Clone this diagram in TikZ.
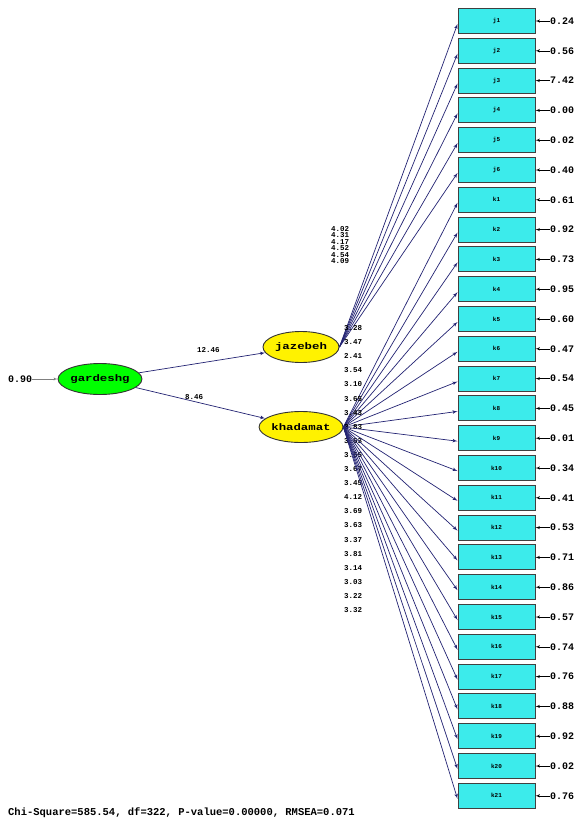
\documentclass[tikz,border=0pt]{standalone}
\usepackage{fontspec}
\setmonofont{Liberation Mono}
\newfontfamily\wide[FakeStretch=1.3]{Liberation Mono}
\usepackage{tikz}
\usetikzlibrary{arrows}
\usetikzlibrary{shapes.geometric}
\definecolor{lisblue}{RGB}{35,35,115}
\definecolor{boxcyan}{RGB}{60,235,235}
\tikzset{edge/.style = {->,> = latex', draw=lisblue, line width=0.7pt}}

\begin{document}
\begin{tikzpicture}[x=1pt, y=-1pt, font=\ttfamily\bfseries,
    obs node/.style={rectangle,draw=black!75,line width=1pt,fill=boxcyan,minimum width=77pt,minimum height=25pt,inner sep=0pt,font=\ttfamily\bfseries\fontsize{6}{6}\selectfont},
    lat node/.style={ellipse,draw=black!80,line width=0.9pt,minimum width=76pt,minimum height=31pt,inner sep=0pt,font=\wide\bfseries\fontsize{9.5}{10}\selectfont},
    load label/.style={font=\ttfamily\bfseries\fontsize{7.5}{7.5}\selectfont,inner sep=0pt},
    err label/.style={anchor=west,font=\ttfamily\bfseries\fontsize{10}{10}\selectfont,inner sep=0pt}]
  \clip (0,0) rectangle (579,827);
  \fill[white] (0,0) rectangle (579,827);
  % latent variables
  \node[lat node, fill=green] (gard) at (100,379) {gardeshg};
  \node[lat node, fill=yellow] (jaz) at (301,347) {jazebeh};
  \node[lat node, fill=yellow] (khad) at (301,427) {khadamat};
  \node[err label] (egard) at (8,379) {0.90};
  \draw[edge, line width=0.4pt, draw=black!50] (egard) -- (gard);
  \draw[edge] (gard) -- node[load label, above=9pt, pos=0.55] {12.46} (jaz);
  \draw[edge] (gard) -- node[load label, above=2pt, pos=0.45] {8.46} (khad);
  % observed variables
  \foreach \name/\err [count=\i from 0] in {j1/0.24,j2/0.56,j3/7.42,j4/0.00,j5/0.02,j6/0.40,
      k1/0.61,k2/0.92,k3/0.73,k4/0.95,k5/0.60,k6/0.47,k7/0.54,k8/0.45,k9/0.01,k10/0.34,
      k11/0.41,k12/0.53,k13/0.71,k14/0.86,k15/0.57,k16/0.74,k17/0.76,k18/0.88,k19/0.92,
      k20/0.02,k21/0.76} {
    \node[obs node] (\name) at (496.5,21+29.8*\i) {\name};
    \node[err label] (e\name) at (550,21+29.8*\i) {\err};
    \draw[edge, line width=0.5pt, draw=black] (e\name) -- (\name);
  }
  % loadings jazebeh
  \foreach \v [count=\i] in {4.02,4.31,4.17,4.52,4.54,4.09} {
    \draw[edge] (jaz.east) -- ([yshift=-3pt]j\i.west);
    \node[load label] (lj\i) at (340,222.5+6.5*\i) {\v};
  }
  % loadings khadamat
  \foreach \v [count=\i] in {3.28,3.47,2.41,3.54,3.10,3.65,3.43,2.83,3.63,3.65,3.67,
      3.45,4.12,3.69,3.63,3.37,3.81,3.14,3.03,3.22,3.32} {
    \draw[edge] (khad.east) -- ([yshift=-3pt]k\i.west);
    \node[load label] (lk\i) at (353,314+14.1*\i) {\v};
  }
  \node[anchor=west, font=\ttfamily\bfseries\fontsize{10.5}{11}\selectfont, inner sep=0pt] (fit)
    at (8,813) {Chi-Square=585.54, df=322, P-value=0.00000, RMSEA=0.071};
\end{tikzpicture}
\end{document}
